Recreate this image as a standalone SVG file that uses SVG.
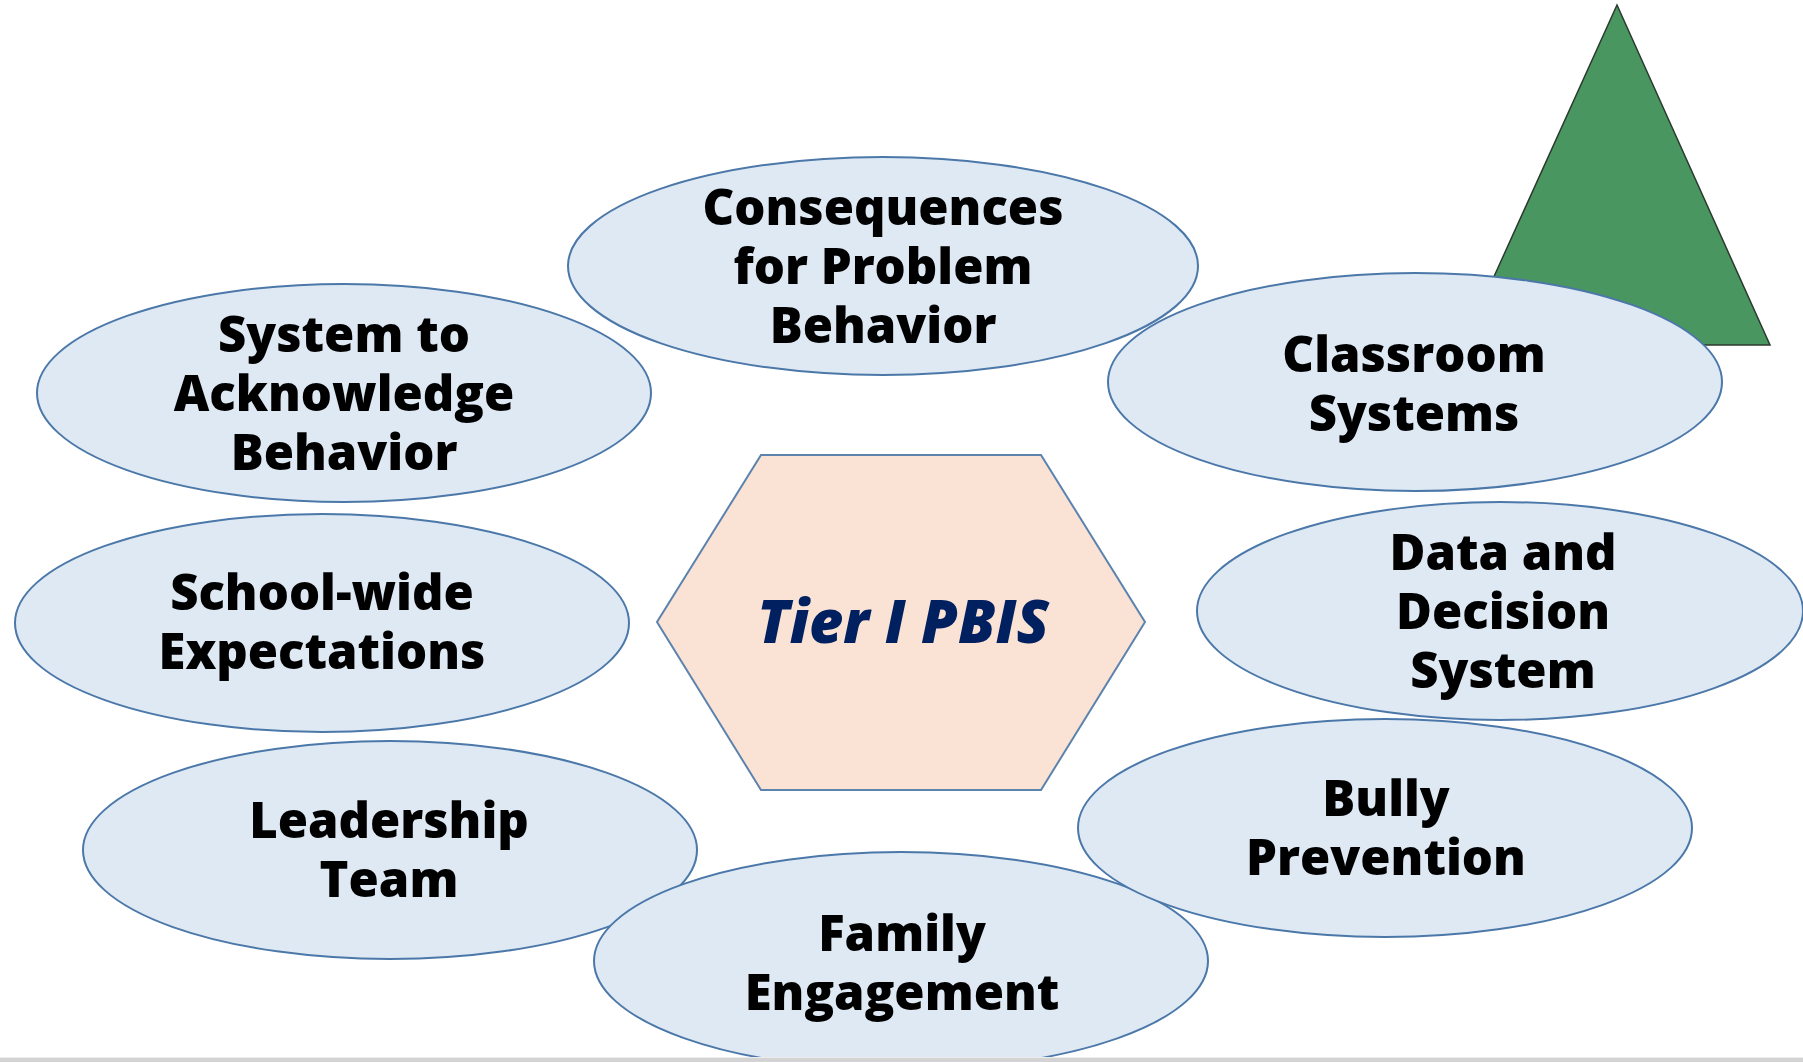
<svg xmlns="http://www.w3.org/2000/svg" width="1803" height="1062" viewBox="0 0 1803 1062">
<style>
.oval{fill:#dee9f4;stroke:#4b78a9;stroke-width:2}
.lbl{font-family:"Open Sans","Liberation Sans",sans-serif;font-weight:800;font-size:49px;fill:#000;text-anchor:middle}
.hex{fill:#fae2d5;stroke:#5b83ae;stroke-width:2}
.tier{font-family:"Open Sans","Liberation Sans",sans-serif;font-weight:800;font-style:italic;font-size:60px;fill:#002060;text-anchor:middle}
</style>
<rect width="1803" height="1062" fill="#ffffff"/>
<g id="triangle">
<polygon points="1617,5 1463,345 1770,345" fill="#4a9660" stroke="#2b3a2e" stroke-width="1.5"/>
</g>
<g id="connectors"/>
<g id="consequences">
<ellipse class="oval" cx="883" cy="266" rx="315" ry="109"/>
<text class="lbl" x="883" y="225">Consequences</text>
<text class="lbl" x="883" y="284">for Problem</text>
<text class="lbl" x="883" y="343">Behavior</text>
</g>
<g id="system-acknowledge">
<ellipse class="oval" cx="344" cy="393" rx="307" ry="109"/>
<text class="lbl" x="344" y="352">System to</text>
<text class="lbl" x="344" y="411">Acknowledge</text>
<text class="lbl" x="344" y="470">Behavior</text>
</g>
<g id="classroom">
<ellipse class="oval" cx="1415" cy="382" rx="307" ry="109"/>
<text class="lbl" x="1414" y="372">Classroom</text>
<text class="lbl" x="1414" y="431">Systems</text>
</g>
<g id="schoolwide">
<ellipse class="oval" cx="322" cy="623" rx="307" ry="109"/>
<text class="lbl" x="322" y="610">School-wide</text>
<text class="lbl" x="322" y="669">Expectations</text>
</g>
<g id="data-decision">
<ellipse class="oval" cx="1500" cy="611" rx="303" ry="109"/>
<text class="lbl" x="1503" y="570">Data and</text>
<text class="lbl" x="1503" y="629">Decision</text>
<text class="lbl" x="1503" y="688">System</text>
</g>
<g id="leadership">
<ellipse class="oval" cx="390" cy="850" rx="307" ry="109"/>
<text class="lbl" x="389" y="838">Leadership</text>
<text class="lbl" x="389" y="897">Team</text>
</g>
<g id="family">
<ellipse class="oval" cx="901" cy="961" rx="307" ry="109"/>
<text class="lbl" x="902" y="951">Family</text>
<text class="lbl" x="902" y="1010">Engagement</text>
</g>
<g id="bully">
<ellipse class="oval" cx="1385" cy="828" rx="307" ry="109"/>
<text class="lbl" x="1386" y="816">Bully</text>
<text class="lbl" x="1386" y="875">Prevention</text>
</g>
<g id="tier1">
<polygon class="hex" points="761,455 1041,455 1145,622 1041,790 761,790 657,622"/>
<text class="tier" x="903" y="643" textLength="292" lengthAdjust="spacingAndGlyphs">Tier I PBIS</text>
</g>
<rect x="0" y="1057" width="1803" height="1" fill="#ececec"/>
<rect x="0" y="1058" width="1803" height="4" fill="#d3d3d3"/>
</svg>
